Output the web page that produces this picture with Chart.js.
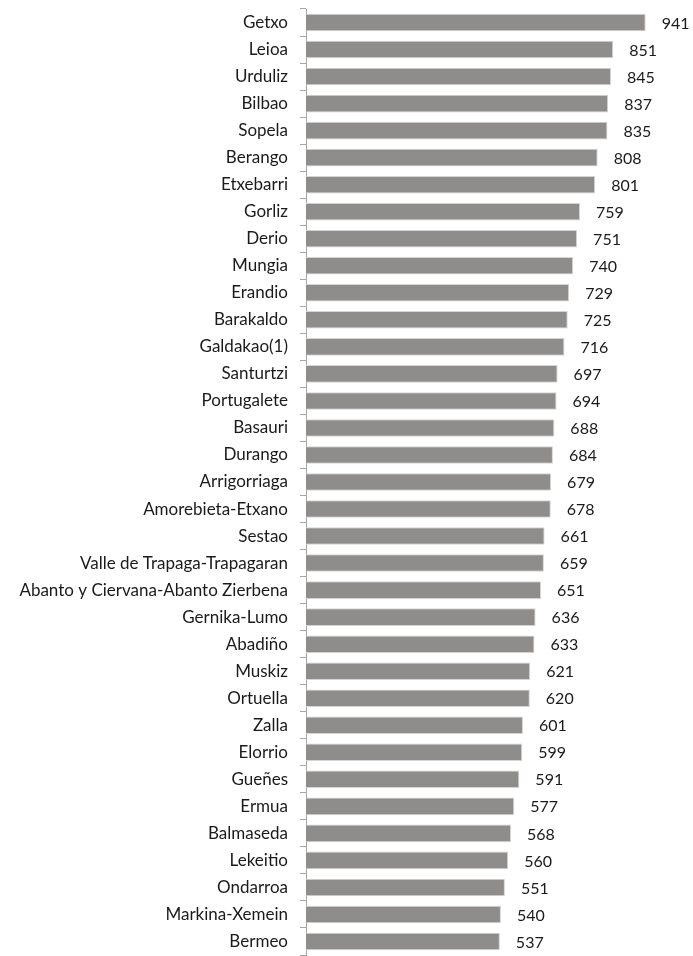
<!DOCTYPE html>
<html>
<head>
<meta charset="utf-8">
<script src="https://cdn.jsdelivr.net/npm/chart.js@4"></script>
<style>
  html, body { margin: 0; padding: 0; background: #ffffff; }
  #wrap { width: 693px; height: 956px; position: relative; }
</style>
</head>
<body>
<div id="wrap"><canvas id="bar_chart"></canvas></div>
<script>
const municipalities = [
  "Getxo", "Leioa", "Urduliz", "Bilbao", "Sopela", "Berango", "Etxebarri",
  "Gorliz", "Derio", "Mungia", "Erandio", "Barakaldo", "Galdakao(1)",
  "Santurtzi", "Portugalete", "Basauri", "Durango", "Arrigorriaga",
  "Amorebieta-Etxano", "Sestao", "Valle de Trapaga-Trapagaran",
  "Abanto y Ciervana-Abanto Zierbena", "Gernika-Lumo", "Abadiño", "Muskiz",
  "Ortuella", "Zalla", "Elorrio", "Gueñes", "Ermua", "Balmaseda", "Lekeitio",
  "Ondarroa", "Markina-Xemein", "Bermeo",
]

const values = [
  941, 851, 845, 837, 835, 808, 801, 759, 751, 740, 729, 725, 716, 697, 694,
  688, 684, 679, 678, 661, 659, 651, 636, 633, 621, 620, 601, 599, 591, 577,
  568, 560, 551, 540, 537,
]

const axisMin = 0
const axisMax = 1000

const FONT = "Lato, 'Open Sans', sans-serif"

// draws the value next to the end of every bar
const valueLabels = {
  id: "valueLabels",
  afterDatasetsDraw(chart) {
    const ctx = chart.ctx
    const meta = chart.getDatasetMeta(0)
    ctx.save()
    ctx.font = "16px " + FONT
    ctx.fillStyle = "#1a1a1a"
    ctx.textAlign = "left"
    ctx.textBaseline = "middle"
    meta.data.forEach((bar, i) => {
      ctx.fillText(String(values[i]), bar.x + 16, bar.y + 1)
    })
    ctx.restore()
  },
}

new Chart(document.getElementById("bar_chart"), {
  type: "bar",
  plugins: [valueLabels],
  data: {
    labels: municipalities,
    datasets: [
      {
        data: values,
        backgroundColor: "#8f8d8b",
        borderColor: "#d6d4d2",
        borderWidth: 1,
        borderSkipped: "start",
        categoryPercentage: 1,
        barPercentage: 0.65,
      },
    ],
  },
  options: {
    indexAxis: "y",
    responsive: true,
    maintainAspectRatio: false,
    animation: false,
    devicePixelRatio: 1,
    layout: {
      padding: { top: 9, bottom: 1, right: 26, left: 0 },
    },
    scales: {
      x: {
        display: false,
        min: axisMin,
        max: axisMax,
      },
      y: {
        afterFit(scale) {
          scale.width = 306
          scale.paddingTop = 0
          scale.paddingBottom = 0
        },
        grid: {
          offset: true,
          drawOnChartArea: false,
          drawTicks: true,
          tickLength: 6,
          color: "#a6a6a6",
          lineWidth: 1,
        },
        border: {
          display: true,
          color: "#a6a6a6",
          width: 1,
        },
        ticks: {
          color: "#1a1a1a",
          padding: 12,
          autoSkip: false,
          font: { family: FONT, size: 17 },
        },
      },
    },
    plugins: {
      legend: { display: false },
      title: { display: false },
      tooltip: { enabled: false },
    },
  },
})
</script>
</body>
</html>
